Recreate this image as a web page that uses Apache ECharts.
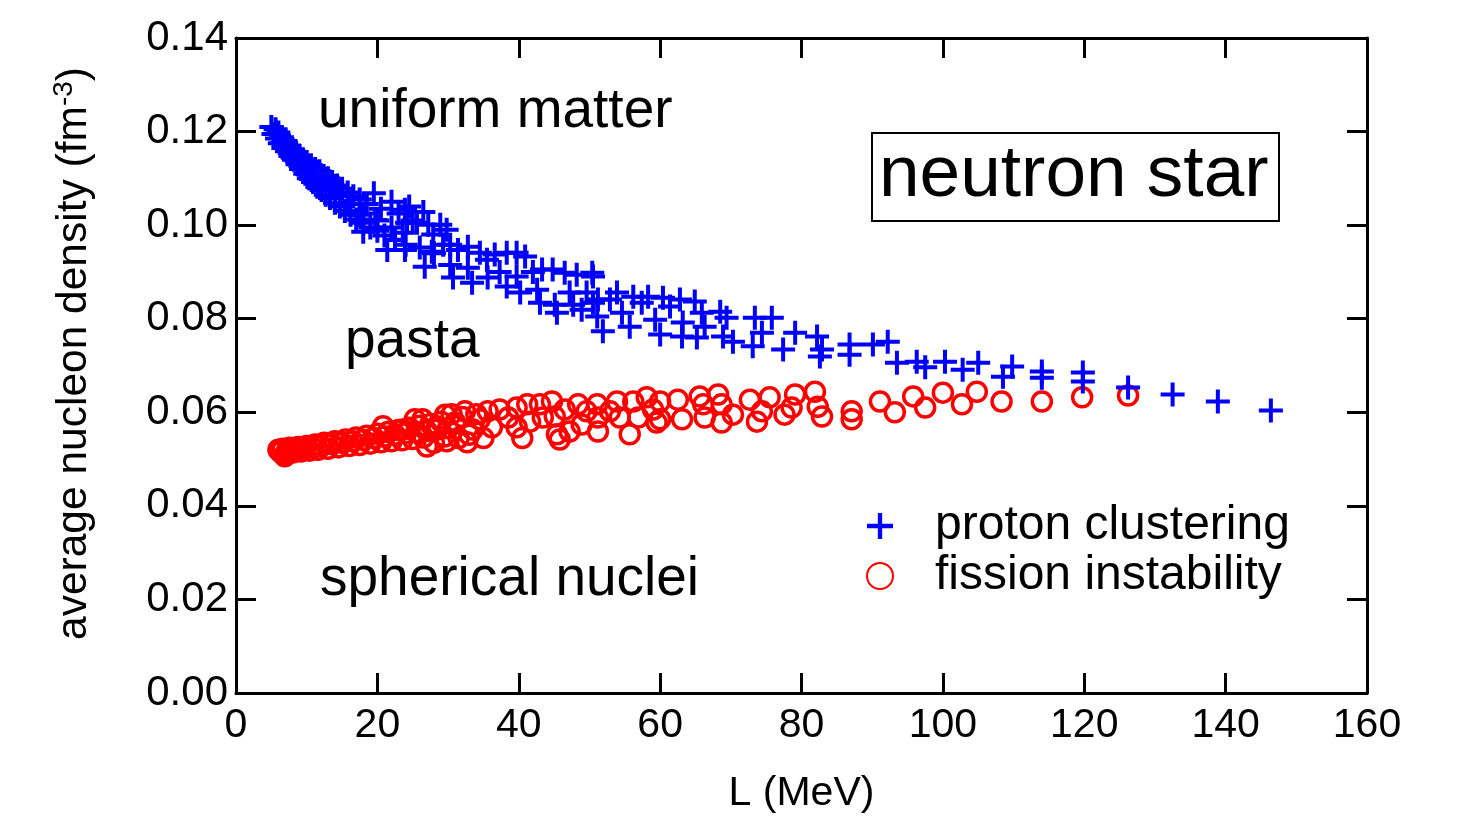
<!DOCTYPE html>
<html>
<head>
<meta charset="utf-8">
<title>neutron star</title>
<script src="https://cdn.jsdelivr.net/npm/echarts@6/dist/echarts.min.js"></script>
<style>
  html, body { margin: 0; padding: 0; background: #fff; }
  #chart { width: 1461px; height: 819px; }
</style>
</head>
<body>
<div id="chart"></div>
<script>
  // L (MeV) vs average nucleon density (fm^-3)
  var protonClustering = [
    [5.0, 0.1210], [5.3, 0.1195], [5.6, 0.1205], [5.8, 0.1185], [6.0, 0.1198], [6.2, 0.1175],
    [6.5, 0.1188], [6.7, 0.1165], [7.0, 0.1180], [7.2, 0.1158], [7.5, 0.1170], [7.7, 0.1148],
    [8.0, 0.1162], [8.0, 0.1145], [8.2, 0.1140], [8.5, 0.1155], [8.7, 0.1130], [9.0, 0.1148],
    [9.2, 0.1120], [9.5, 0.1140], [9.8, 0.1110], [10.0, 0.1135], [10.0, 0.1118], [10.3, 0.1100],
    [10.6, 0.1128], [10.9, 0.1092], [11.2, 0.1120], [11.5, 0.1082], [11.8, 0.1115], [12.0, 0.1090],
    [12.1, 0.1075], [12.4, 0.1105], [12.7, 0.1065], [13.0, 0.1100], [13.3, 0.1058], [13.6, 0.1092],
    [14.0, 0.1048], [14.0, 0.1065], [14.3, 0.1085], [14.7, 0.1040], [15.0, 0.1078], [15.4, 0.1030],
    [15.8, 0.1070], [16.0, 0.1045], [16.2, 0.1022], [16.6, 0.1062], [17.0, 0.1012], [17.5, 0.1055],
    [17.5, 0.1022], [18.0, 0.1005], [18.0, 0.0986], [18.0, 0.1025], [18.5, 0.1045], [19.0, 0.0995],
    [19.5, 0.1068], [19.7, 0.1011], [20.0, 0.0988], [20.0, 0.1010], [20.5, 0.1035], [21.0, 0.0978],
    [21.4, 0.0947], [22.0, 0.1050], [22.0, 0.0995], [22.5, 0.0968], [22.5, 0.0969], [23.0, 0.1025],
    [23.6, 0.0984], [23.9, 0.1033], [23.9, 0.0947], [24.0, 0.0958], [24.2, 0.1005], [24.5, 0.1040],
    [25.0, 0.1010], [25.6, 0.1005], [26.0, 0.0952], [26.5, 0.1028], [26.7, 0.0911], [27.2, 0.1001],
    [27.7, 0.0943], [27.9, 0.0980], [28.0, 0.0940], [28.9, 0.1001], [29.3, 0.0958], [29.8, 0.0990],
    [30.3, 0.0958], [30.3, 0.0915], [30.7, 0.0888], [31.4, 0.0947], [32.8, 0.0954], [32.8, 0.0909],
    [33.4, 0.0877], [34.5, 0.0941], [35.5, 0.0926], [35.6, 0.0888], [36.6, 0.0937], [37.3, 0.0900],
    [38.3, 0.0941], [38.3, 0.0869], [39.7, 0.0941], [39.7, 0.0890], [40.2, 0.0856], [40.9, 0.0933],
    [42.0, 0.0900], [42.6, 0.0862], [43.0, 0.0834], [43.3, 0.0905], [44.8, 0.0905], [45.1, 0.0830],
    [45.4, 0.0813], [46.5, 0.0898], [47.2, 0.0856], [47.7, 0.0830], [48.2, 0.0894], [48.9, 0.0819],
    [49.6, 0.0856], [50.4, 0.0898], [50.5, 0.0834], [50.5, 0.0890], [51.2, 0.0841], [51.1, 0.0805],
    [51.9, 0.0773], [52.9, 0.0841], [53.9, 0.0856], [54.6, 0.0813], [55.7, 0.0783], [56.2, 0.0847],
    [57.4, 0.0834], [58.3, 0.0847], [59.3, 0.0798], [60.0, 0.0766], [60.4, 0.0845], [61.4, 0.0826],
    [62.8, 0.0841], [63.2, 0.0792], [63.1, 0.0762], [64.9, 0.0837], [65.2, 0.0760], [65.9, 0.0813],
    [66.3, 0.0783], [68.5, 0.0815], [68.9, 0.0762], [69.4, 0.0802], [70.3, 0.0751], [73.4, 0.0802],
    [73.1, 0.0741], [74.4, 0.0770], [75.8, 0.0802], [77.4, 0.0734], [79.1, 0.0770], [82.2, 0.0762],
    [82.9, 0.0734], [82.6, 0.0719], [86.8, 0.0745], [86.8, 0.0723], [90.1, 0.0745], [92.2, 0.0751],
    [93.5, 0.0706], [96.3, 0.0708], [97.5, 0.0696], [100.3, 0.0708], [102.8, 0.0691], [105.0, 0.0706],
    [108.5, 0.0676], [109.8, 0.0698], [114.0, 0.0687], [114.0, 0.0674], [119.8, 0.0685], [119.8, 0.0666],
    [126.2, 0.0653], [132.5, 0.0638], [138.9, 0.0623], [146.4, 0.0604]
  ]

  var fissionInstability = [
    [6.0, 0.0520], [6.3, 0.0515], [6.6, 0.0522], [6.9, 0.0506], [7.0, 0.0512], [7.3, 0.0519],
    [7.6, 0.0524], [8.0, 0.0514], [8.4, 0.0521], [8.8, 0.0526], [9.2, 0.0516], [9.6, 0.0523],
    [10.0, 0.0528], [10.4, 0.0518], [10.8, 0.0525], [11.2, 0.0531], [11.6, 0.0520], [12.0, 0.0528],
    [12.5, 0.0535], [13.0, 0.0522], [13.5, 0.0532], [14.0, 0.0538], [14.5, 0.0525], [15.0, 0.0535],
    [15.5, 0.0542], [16.0, 0.0528], [16.5, 0.0538], [17.0, 0.0546], [17.5, 0.0530], [18.0, 0.0541],
    [18.5, 0.0550], [19.0, 0.0533], [19.5, 0.0545], [20.0, 0.0554], [20.5, 0.0536], [20.8, 0.0570],
    [21.0, 0.0548], [21.5, 0.0558], [22.0, 0.0538], [22.5, 0.0552], [23.0, 0.0562], [23.5, 0.0540],
    [23.6, 0.0563], [24.0, 0.0555], [24.5, 0.0567], [25.0, 0.0543], [25.3, 0.0585], [25.5, 0.0558],
    [26.0, 0.0571], [26.4, 0.0585], [26.5, 0.0546], [27.0, 0.0527], [27.0, 0.0560], [27.5, 0.0575],
    [28.0, 0.0535], [28.4, 0.0570], [28.5, 0.0563], [29.0, 0.0580], [29.5, 0.0548], [29.6, 0.0595],
    [29.8, 0.0538], [30.0, 0.0566], [30.5, 0.0596], [31.0, 0.0578], [31.5, 0.0545], [32.0, 0.0590],
    [32.4, 0.0602], [32.7, 0.0536], [33.0, 0.0552], [33.5, 0.0563], [34.0, 0.0596], [34.5, 0.0585],
    [35.0, 0.0545], [35.6, 0.0602], [36.2, 0.0568], [37.3, 0.0606], [38.5, 0.0589], [39.7, 0.0610],
    [39.7, 0.0568], [40.5, 0.0545], [41.2, 0.0617], [41.6, 0.0580], [43.0, 0.0617], [43.4, 0.0589],
    [44.7, 0.0623], [45.1, 0.0591], [45.4, 0.0553], [45.8, 0.0542], [46.5, 0.0606], [47.2, 0.0559],
    [48.4, 0.0617], [48.9, 0.0574], [49.6, 0.0602], [51.1, 0.0617], [51.2, 0.0589], [51.2, 0.0559],
    [52.9, 0.0602], [53.9, 0.0623], [54.3, 0.0589], [55.7, 0.0553], [56.2, 0.0623], [56.9, 0.0589],
    [58.1, 0.0632], [59.0, 0.0606], [59.5, 0.0578], [60.0, 0.0623], [60.0, 0.0585], [62.5, 0.0627],
    [63.1, 0.0585], [65.6, 0.0634], [66.1, 0.0617], [66.3, 0.0589], [68.2, 0.0638], [68.7, 0.0617],
    [68.7, 0.0578], [70.3, 0.0595], [72.7, 0.0627], [73.7, 0.0580], [74.4, 0.0602], [75.5, 0.0632],
    [77.6, 0.0595], [78.6, 0.0610], [79.1, 0.0638], [81.9, 0.0644], [82.3, 0.0612], [82.9, 0.0591],
    [87.1, 0.0602], [87.1, 0.0585], [91.1, 0.0623], [93.2, 0.0600], [95.8, 0.0634], [97.5, 0.0610],
    [100.0, 0.0642], [102.7, 0.0617], [104.8, 0.0644], [108.3, 0.0623], [114.0, 0.0623], [119.7, 0.0632],
    [126.2, 0.0636]
  ]

  var seriesNames = ['proton clustering', 'fission instability']

  var FONT = "'Liberation Sans', Arial, Helvetica, sans-serif"
  var CROSS = 'path://M10,0H14V10H24V14H14V24H10V14H0V10H10Z'

  var axisCommon = {
    axisLine: { show: true, onZero: false, lineStyle: { color: '#000', width: 3 } },
    axisTick: { show: true, inside: true, length: 20, lineStyle: { color: '#000', width: 3 } },
    splitLine: { show: false }
  }

  var chart = echarts.init(document.getElementById('chart'))
  chart.setOption({
    animation: false,
    backgroundColor: '#fff',
    textStyle: { fontFamily: FONT },
    grid: { left: 236, right: 94, top: 38, bottom: 125 },
    legend: {
      data: seriesNames,
      orient: 'vertical',
      left: 861,
      top: 496,
      itemWidth: 26,
      itemHeight: 26,
      itemGap: 0,
      selectedMode: false,
      textStyle: { fontSize: 48, color: '#000', fontFamily: FONT, lineHeight: 50, padding: [0, 0, 0, 37] }
    },
    xAxis: [
      Object.assign({
        type: 'value', min: 0, max: 160, interval: 20, position: 'bottom',
        name: 'L (MeV)', nameLocation: 'middle', nameGap: 80,
        nameTextStyle: { fontSize: 41, color: '#000', fontFamily: FONT },
        axisLabel: { fontSize: 41, color: '#000', margin: 12, fontFamily: FONT }
      }, axisCommon),
      Object.assign({
        type: 'value', min: 0, max: 160, interval: 20, position: 'top',
        axisLabel: { show: false }
      }, axisCommon)
    ],
    yAxis: [
      Object.assign({
        type: 'value', min: 0, max: 0.14, interval: 0.02, position: 'left',
        name: 'average nucleon density (fm{sup|-3})', nameLocation: 'middle', nameGap: 138, nameRotate: 90,
        nameTextStyle: {
          fontSize: 42.5, color: '#000', fontFamily: FONT, padding: [0, 0, 0, 24],
          rich: { sup: { fontSize: 28, color: '#000', fontFamily: FONT, verticalAlign: 'bottom', padding: [0, 0, 20, 0] } }
        },
        axisLabel: {
          fontSize: 42, color: '#000', margin: 8, fontFamily: FONT,
          formatter: function (v) { return v.toFixed(2) }
        }
      }, axisCommon),
      Object.assign({
        type: 'value', min: 0, max: 0.14, interval: 0.02, position: 'right',
        axisLabel: { show: false }
      }, axisCommon)
    ],
    graphic: [
      { type: 'text', left: 318, top: 84, style: { text: 'uniform matter', font: '55px ' + FONT, fill: '#000' } },
      { type: 'text', left: 345, top: 314, style: { text: 'pasta', font: '55px ' + FONT, fill: '#000' } },
      { type: 'text', left: 320, top: 552, style: { text: 'spherical nuclei', font: '55px ' + FONT, fill: '#000' } },
      { type: 'rect', left: 871, top: 132, shape: { width: 407, height: 88 }, style: { fill: '#fff', stroke: '#000', lineWidth: 2 } },
      { type: 'text', left: 879, top: 139, style: { text: 'neutron star', font: '73px ' + FONT, fill: '#000' } }
    ],
    series: [
      {
        name: seriesNames[1],
        type: 'scatter',
        data: fissionInstability,
        symbol: 'circle',
        symbolSize: 19,
        itemStyle: { color: 'rgba(255,255,255,0)', borderColor: '#ff0000', borderWidth: 3.5, opacity: 1 }
      },
      {
        name: seriesNames[0],
        type: 'scatter',
        data: protonClustering,
        symbol: CROSS,
        symbolSize: 24,
        itemStyle: { color: '#0000ff', opacity: 1 }
      }
    ]
  })
</script>
</body>
</html>
